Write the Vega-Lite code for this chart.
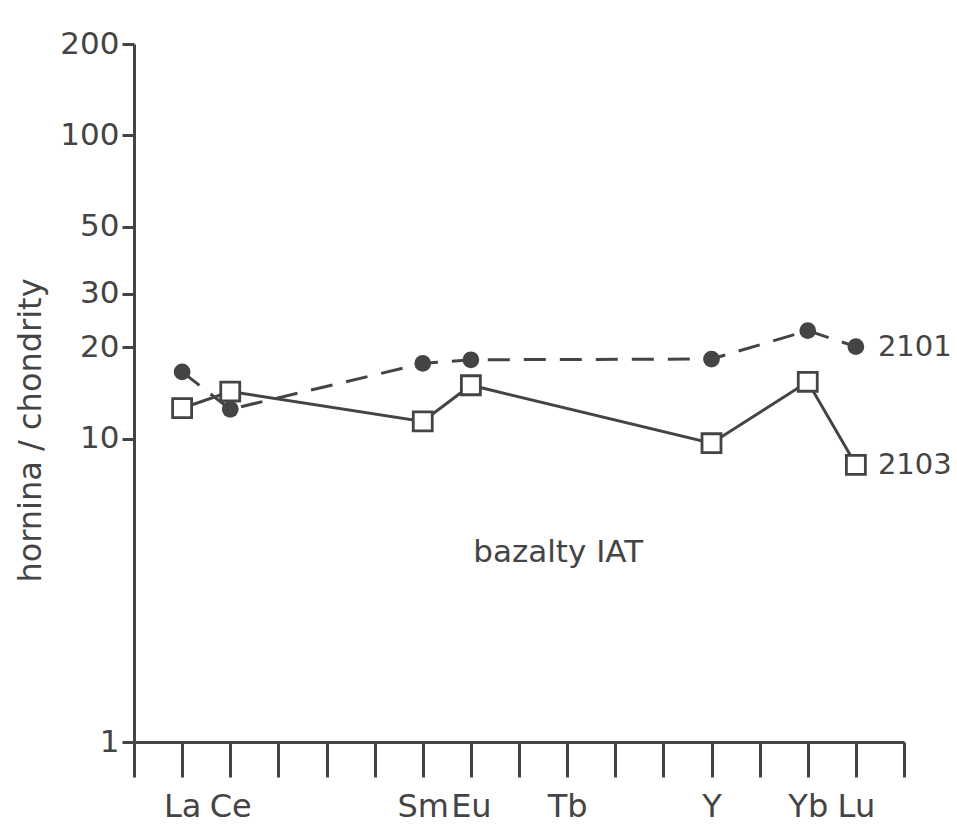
{
  "$schema": "https://vega.github.io/schema/vega-lite/v6.json",
  "autosize": {"type": "none"},
  "padding": {"left": 134, "top": 44, "right": 53, "bottom": 88},
  "width": 770,
  "height": 698,
  "background": "white",
  "config": {
    "view": {"stroke": null},
    "font": "DejaVu Sans",
    "axis": {"grid": false, "domainColor": "#444", "tickColor": "#444", "labelColor": "#444", "titleColor": "#444", "domainWidth": 3, "tickWidth": 3, "labelFont": "DejaVu Sans", "titleFont": "DejaVu Sans", "titleFontWeight": "normal"}
  },
  "datasets": {
    "ree": [
      {"element": "La", "pos": 1, "sample": "2101", "value": 16.6},
      {"element": "Ce", "pos": 2, "sample": "2101", "value": 12.5},
      {"element": "Sm", "pos": 6, "sample": "2101", "value": 17.7},
      {"element": "Eu", "pos": 7, "sample": "2101", "value": 18.2},
      {"element": "Y", "pos": 12, "sample": "2101", "value": 18.3},
      {"element": "Yb", "pos": 14, "sample": "2101", "value": 22.7},
      {"element": "Lu", "pos": 15, "sample": "2101", "value": 20.1},
      {"element": "La", "pos": 1, "sample": "2103", "value": 12.6},
      {"element": "Ce", "pos": 2, "sample": "2103", "value": 14.3},
      {"element": "Sm", "pos": 6, "sample": "2103", "value": 11.4},
      {"element": "Eu", "pos": 7, "sample": "2103", "value": 15.0},
      {"element": "Y", "pos": 12, "sample": "2103", "value": 9.66},
      {"element": "Yb", "pos": 14, "sample": "2103", "value": 15.4},
      {"element": "Lu", "pos": 15, "sample": "2103", "value": 8.2}
    ],
    "labels": [
      {"label": "2101", "pos": 15, "value": 20.1},
      {"label": "2103", "pos": 15, "value": 8.2}
    ],
    "note": [
      {"label": "bazalty IAT", "pos": 7.05, "value": 4.2}
    ]
  },
  "layer": [
    {
      "data": {"name": "ree"},
      "transform": [{"filter": "datum.sample === '2101'"}],
      "mark": {"type": "line", "color": "#444", "strokeWidth": 3, "strokeDash": [22, 14]},
      "encoding": {
        "x": {
          "field": "pos", "type": "quantitative",
          "scale": {"domain": [0, 16], "nice": false, "zero": false},
          "axis": {
            "title": null,
            "values": [0,1,2,3,4,5,6,7,8,9,10,11,12,13,14,15,16],
            "labelExpr": "({1:'La',2:'Ce',6:'Sm',7:'Eu',9:'Tb',12:'Y',14:'Yb',15:'Lu'})[datum.value] || ''",
            "tickSize": 35,
            "labelFontSize": 32,
            "labelPadding": 14,
            "labelOverlap": false,
            "labelFlush": false
          }
        },
        "y": {
          "field": "value", "type": "quantitative",
          "scale": {"type": "log", "domain": [1, 200], "nice": false},
          "axis": {
            "title": "hornina / chondrity",
            "values": [1, 10, 20, 30, 50, 100, 200],
            "tickSize": 12,
            "labelFontSize": 31,
            "labelPadding": 3,
            "labelOverlap": false,
            "labelFlush": false,
            "titleFontSize": 32,
            "titleAngle": 270,
            "titleAlign": "center",
            "titleBaseline": "middle",
            "titleX": -104,
            "titleY": 386
          }
        }
      }
    },
    {
      "data": {"name": "ree"},
      "transform": [{"filter": "datum.sample === '2103'"}],
      "mark": {"type": "line", "color": "#444", "strokeWidth": 3},
      "encoding": {
        "x": {"field": "pos", "type": "quantitative"},
        "y": {"field": "value", "type": "quantitative"}
      }
    },
    {
      "data": {"name": "ree"},
      "transform": [{"filter": "datum.sample === '2101'"}],
      "mark": {"type": "point", "shape": "circle", "filled": true, "color": "#444", "size": 280, "opacity": 1},
      "encoding": {
        "x": {"field": "pos", "type": "quantitative"},
        "y": {"field": "value", "type": "quantitative"}
      }
    },
    {
      "data": {"name": "ree"},
      "transform": [{"filter": "datum.sample === '2103'"}],
      "mark": {"type": "point", "shape": "square", "filled": false, "fill": "white", "fillOpacity": 1, "stroke": "#444", "strokeWidth": 2.8, "size": 360, "opacity": 1},
      "encoding": {
        "x": {"field": "pos", "type": "quantitative"},
        "y": {"field": "value", "type": "quantitative"}
      }
    },
    {
      "data": {"name": "labels"},
      "mark": {"type": "text", "align": "left", "baseline": "middle", "dx": 22, "fontSize": 29, "color": "#444"},
      "encoding": {
        "x": {"field": "pos", "type": "quantitative"},
        "y": {"field": "value", "type": "quantitative"},
        "text": {"field": "label"}
      }
    },
    {
      "data": {"name": "note"},
      "mark": {"type": "text", "align": "left", "baseline": "middle", "fontSize": 31, "color": "#444"},
      "encoding": {
        "x": {"field": "pos", "type": "quantitative"},
        "y": {"field": "value", "type": "quantitative"},
        "text": {"field": "label"}
      }
    }
  ]
}
